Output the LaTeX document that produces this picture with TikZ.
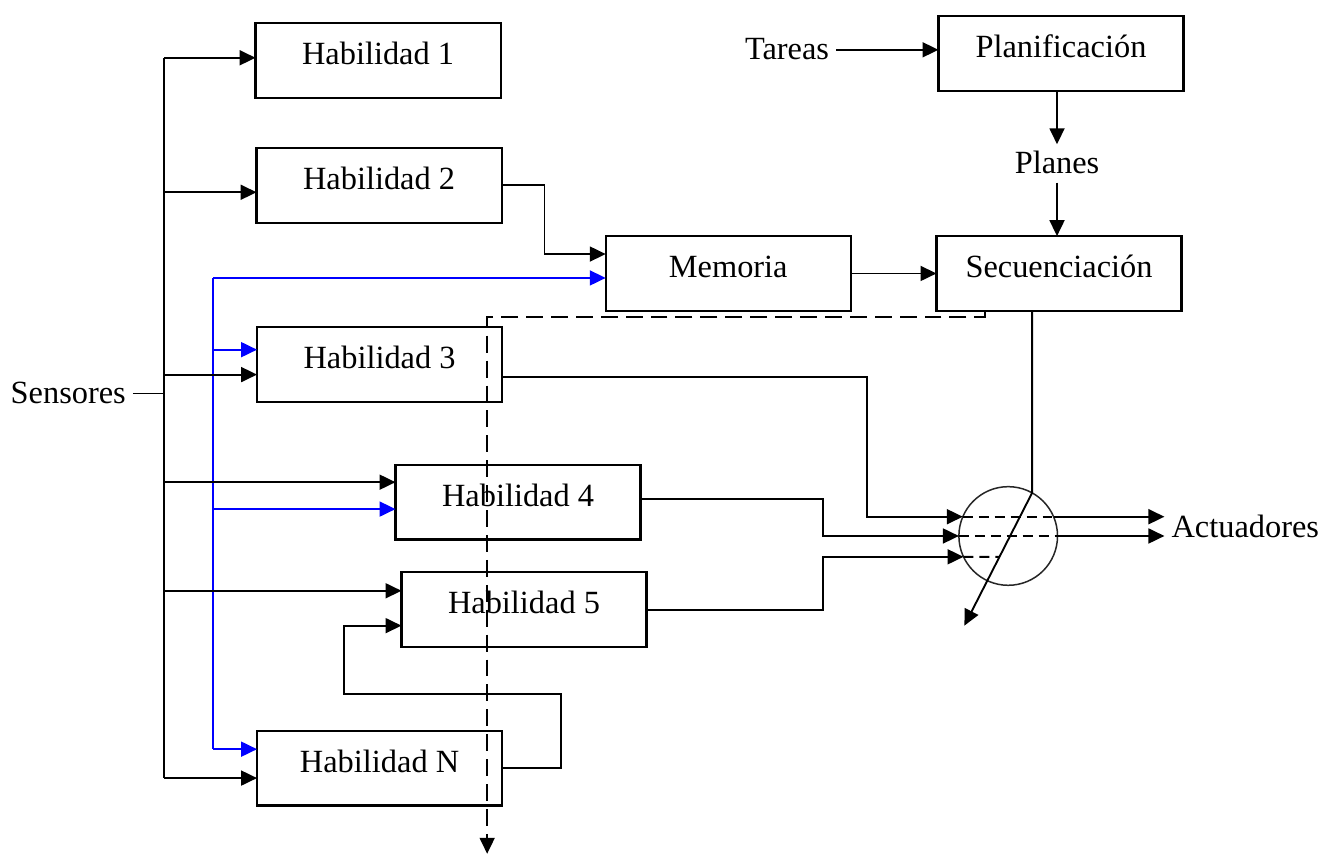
\documentclass[tikz,border=0pt]{standalone}
\usepackage{fontspec}
\setmainfont{Liberation Serif}
\usetikzlibrary{arrows.meta,calc}
\begin{document}
\begin{tikzpicture}[x=1pt,y=-1pt,
  font=\fontsize{32.5}{38}\selectfont,
  blk/.style={draw,line width=2.2pt,minimum width=246pt,minimum height=75pt,
    inner sep=0pt,outer sep=0pt,text height=20pt,text depth=12pt},
  lbl/.style={inner sep=7pt,text height=22pt,text depth=2pt,anchor=base},
  wire/.style={line width=1.9pt},
  arr/.style={wire,-{Triangle[length=16pt,width=15pt]}},
  barr/.style={arr,blue},
  ctrlline/.style={dash pattern=on 17pt off 8pt},
]
\path[fill=white] (0,0) rectangle (1326,859);

% blocks
\node[blk] (h1) at (379.5,60.5) {Habilidad 1};
\node[blk] (h2) at (380.5,186) {Habilidad 2};
\node[blk] (h3) at (381,366) {Habilidad 3};
\node[blk] (h4) at (520,504) {Habilidad 4};
\node[blk] (h5) at (526,612) {Habilidad 5};
\node[blk] (hN) at (381,771) {Habilidad N};
\node[blk] (mem) at (731,274.5) {Memoria};
\node[blk] (plan) at (1065,53.5) {Planificación};
\node[blk] (sec) at (1063,274.5) {Secuenciación};
\node[circle,draw=black!85,line width=1.5pt,minimum size=99pt,inner sep=0pt,outer sep=0pt] (sw) at (1012,538) {};

% free labels
\node[lbl] (tareas) at (790,60) {Tareas};
\node[lbl] (planes) at (1061,174) {Planes};
\node[lbl] (sens) at (68.5,405) {Sensores};
\node[lbl] (act) at (1250,540) {Actuadores};

% sensor bus (black)
\coordinate (busTop) at (165,58);
\coordinate (busBot) at (165,781);
\draw[wire] (busTop) -- (busBot);
\draw[wire] (sens.east) -- (sens.east -| busTop);

\coordinate (in1) at ([yshift=2.5pt]h1.west);
\coordinate (in2) at ([yshift=-7pt]h2.west);
\coordinate (in3) at ([yshift=-10pt]h3.west);
\coordinate (in4) at ([yshift=20pt]h4.west);
\coordinate (in5) at ([yshift=19pt]h5.west);
\coordinate (inN) at ([yshift=-10pt]hN.west);

% memory bus (blue)
\coordinate (bbus) at (214,0);
\coordinate (bm) at ([yshift=-4.5pt]mem.west);
\coordinate (b3) at ([yshift=15pt]h3.west);
\coordinate (b4) at ([yshift=-7pt]h4.west);
\coordinate (bN) at ([yshift=19pt]hN.west);
\draw[wire,blue] (bm -| bbus) -- (bN -| bbus);
\foreach \c in {bm,b3,b4,bN} \draw[barr] (\c -| bbus) -- (\c);

\foreach \c in {in1,in2,in3,in4,in5,inN} \draw[arr] (\c -| busTop) -- (\c);

% behaviour outputs
\coordinate (memIn) at ([yshift=19.5pt]mem.west);
\draw[arr] (h2.east) -- ++(43,0) |- (memIn);
\draw[arr] (mem.east) -- (sec.west);
\draw[arr] (tareas.east) -- (tareas.east -| plan.west);
\draw[arr] (planes.north |- plan.south) -- (planes.north);
\draw[arr] (planes.south) -- (planes.south |- sec.north);

\draw[arr] ([yshift=-12pt]h3.east) -- ++(366,0) |- (sw.157);
\draw[arr] ([yshift=3pt]h4.east) -- ++(183,0) |- (sw.west);
\draw[arr] (h5.east) -- ++(177,0) |- (sw.205);

% feedback loop of skill N into skill 5
\coordinate (fb5) at ([yshift=-16pt]h5.west);
\draw[arr] (hN.east) -- ++(59,0) -- ++(0,-74) -- ++(-218,0) |- (fb5);

% switch internals and outputs
\draw[wire,dash pattern=on 10pt off 6pt] (sw.157) -- (sw.23);
\draw[wire,dash pattern=on 10pt off 6pt] (sw.west) -- (sw.east);
\draw[wire,dash pattern=on 10pt off 6pt] (sw.205) -- ($(sw.205)!0.4!(sw.335)$);
\draw[arr] (sw.23) -- (sw.23 -| act.west);
\draw[arr] (sw.east) -- (sw.east -| act.west);

\coordinate (secOut) at ([xshift=-27pt]sec.south);
\coordinate (swTip) at (968,628);
\draw[arr] (secOut) -- (secOut |- sw.61) -- (swTip);

% dashed control line
\coordinate (dTop) at ([xshift=-74pt]sec.south);
\coordinate (dCorner) at (489,318);
\coordinate (dEnd) at (489,857);
\draw[arr,ctrlline] (dTop) -- (dTop |- dCorner) -- (dCorner) -- (dEnd);
\end{tikzpicture}
\end{document}
